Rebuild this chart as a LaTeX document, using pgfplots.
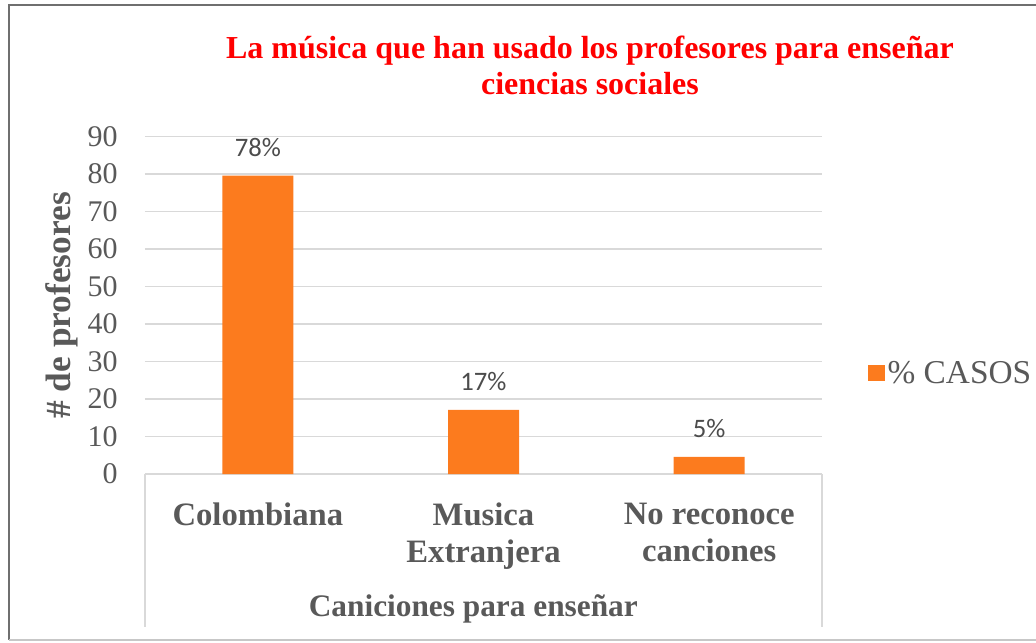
\documentclass[border=0pt]{standalone}
\usepackage{pgfplots}
\pgfplotsset{compat=1.18}
\usepackage{fontspec}
\setmainfont{Liberation Serif}
\newfontfamily\calibri{Carlito}
\definecolor{txtgray}{HTML}{595959}
\definecolor{gridgray}{HTML}{D9D9D9}
\definecolor{barorange}{HTML}{FC7B1E}
\definecolor{framegray}{HTML}{6F6F6F}
\begin{document}
\begin{tikzpicture}
\useasboundingbox (0,0) rectangle ({1036*0.75pt},{-643*0.75pt});
% outer frame
\draw[framegray, line width=1.5pt] ({8.5*0.75pt},{-640*0.75pt}) -- ({8.5*0.75pt},{-5*0.75pt}) -- ({1036*0.75pt},{-5*0.75pt});
\draw[gridgray!80!gray, line width=1.5pt] ({8.5*0.75pt},{-640*0.75pt}) -- ({1036*0.75pt},{-640*0.75pt});
% title
\node[align=center, text=red, font=\fontsize{24}{27}\selectfont\bfseries] at ({590*0.75pt},{-65*0.75pt}) {La música que han usado los profesores para enseñar\\ciencias sociales};
\begin{axis}[
  at={({145*0.75pt},{-474*0.75pt})}, anchor=south west,
  scale only axis, width=507.75pt, height=253pt,
  xmin=-0.5, xmax=2.5, ymin=0, ymax=90,
  ytick={0,10,...,90},
  xtick={0,1,2},
  xticklabels={Colombiana, {Musica\\Extranjera}, {No reconoce\\canciones}},
  xticklabel style={align=center, anchor=north, font=\fontsize{24.5}{28}\selectfont\bfseries, text=txtgray, yshift=-18pt},
  yticklabel style={font=\fontsize{22.5}{26}\selectfont, text=txtgray, xshift=-17pt},
  /pgf/number format/assume math mode=true,
  major tick length=0pt,
  ymajorgrids, grid style={gridgray, line width=1.2pt},
  axis x line*=bottom, axis y line*=left,
  x axis line style={gridgray, line width=1.2pt, -},
  y axis line style={draw=none},
  ylabel={\# de profesores},
  ylabel style={font=\fontsize{26.5}{30}\selectfont\bfseries, text=txtgray, at={(axis description cs:-0.1226,0.5)}, anchor=center},
  xlabel={Caniciones para enseñar},
  xlabel style={font=\fontsize{23.5}{28}\selectfont\bfseries, text=txtgray, at={(axis description cs:0.485,0)}, anchor=center, yshift={-135*0.75pt}},
  ybar, bar width={71*0.75pt},
  point meta=explicit symbolic,
  nodes near coords,
  nodes near coords style={font=\calibri\fontsize{20}{24}\selectfont, text=txtgray!85!black, anchor=south, yshift=10.5pt},
  legend style={at={(axis description cs:1.068,0.2995)}, anchor=west, draw=none, fill=none, font=\fontsize{25}{28}\selectfont, text=txtgray, inner sep=0pt},
  legend image code/.code={\fill[barorange] (0pt,-6.25pt) rectangle (12.5pt,6.25pt);},
]
\addplot[fill=barorange, draw=none] coordinates {(0,79.6) [78\%] (1,17.1) [17\%] (2,4.6) [5\%]};
\addlegendentry{\% CASOS}
\end{axis}
% multi-level category frame
\draw[gridgray, line width=1.2pt] ({145*0.75pt},{-474*0.75pt}) -- ({145*0.75pt},{-627*0.75pt});
\draw[gridgray, line width=1.2pt] ({822*0.75pt},{-474*0.75pt}) -- ({822*0.75pt},{-627*0.75pt});
\end{tikzpicture}
\end{document}
